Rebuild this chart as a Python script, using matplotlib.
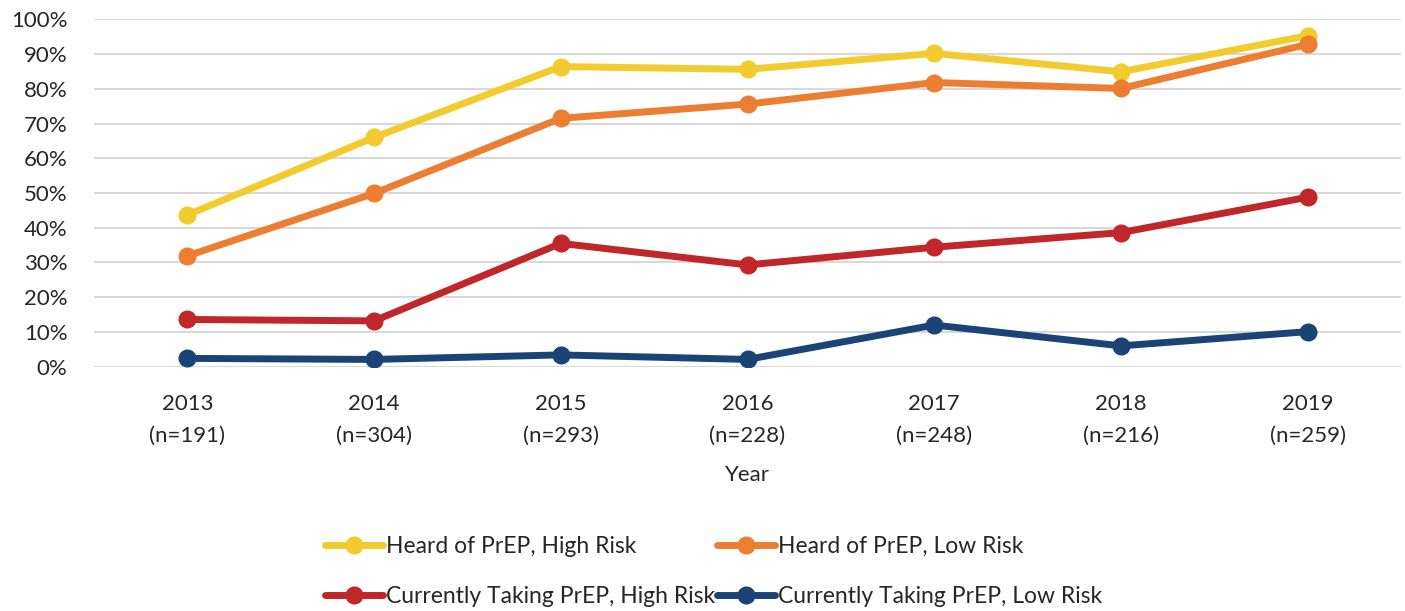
import matplotlib.pyplot as plt
from matplotlib.ticker import PercentFormatter

plt.rcParams['font.family'] = ['Lato', 'DejaVu Sans']

years = ['2013', '2014', '2015', '2016', '2017', '2018', '2019']
sample_sizes = [191, 304, 293, 228, 248, 216, 259]

heard_high = [43.7, 66.0, 86.4, 85.6, 90.2, 84.9, 95.3]
heard_low = [31.9, 49.9, 71.5, 75.6, 81.8, 80.1, 92.8]
taking_high = [13.6, 13.2, 35.5, 29.3, 34.4, 38.6, 48.8]
taking_low = [2.4, 2.1, 3.4, 2.1, 12.0, 6.0, 10.1]

series = [
    ('Heard of PrEP, High Risk', heard_high, '#F2CB2E'),
    ('Heard of PrEP, Low Risk', heard_low, '#ED7D31'),
    ('Currently Taking PrEP, High Risk', taking_high, '#C0262A'),
    ('Currently Taking PrEP, Low Risk', taking_low, '#1B4375'),
]

txt = '#262626'

fig = plt.figure(figsize=(14.05, 6.11), dpi=100)
ax = fig.add_axes([0.0669, 0.3998, 0.9303, 0.5686])

x = range(len(years))
lines = []
for label, vals, col in series:
    ln, = ax.plot(x, vals, color=col, lw=5, marker='o', ms=12,
                  label=label, solid_capstyle='round')
    lines.append(ln)

ax.set_xlim(-0.5, len(years) - 0.5)
ax.set_ylim(0, 100)
ax.set_yticks(range(0, 101, 10))
ax.yaxis.set_major_formatter(PercentFormatter(decimals=0))
ax.set_xticks(list(x))
ax.set_xticklabels([f'{y}\n(n={n})' for y, n in zip(years, sample_sizes)],
                   linespacing=1.7)
ax.tick_params(axis='both', length=0, labelsize=16, colors=txt)
ax.tick_params(axis='x', pad=20)
ax.tick_params(axis='y', pad=19)

ax.grid(axis='y', color='#D9D9D9', lw=1.5)
ax.set_axisbelow(True)
for sp in ax.spines.values():
    sp.set_visible(False)

ax.set_xlabel('Year', fontsize=16, color=txt, labelpad=14)

# legend is filled column by column, so order it to read row by row
order = [0, 2, 1, 3]
fig.legend([lines[i] for i in order], [series[i][0] for i in order],
           loc='center', bbox_to_anchor=(0.508, 0.065), ncol=2,
           frameon=False, fontsize=16.5, handlelength=2.5, handletextpad=0.15,
           columnspacing=0.1, labelspacing=1.25, labelcolor=txt)

fig.savefig('out.png', dpi=100)
